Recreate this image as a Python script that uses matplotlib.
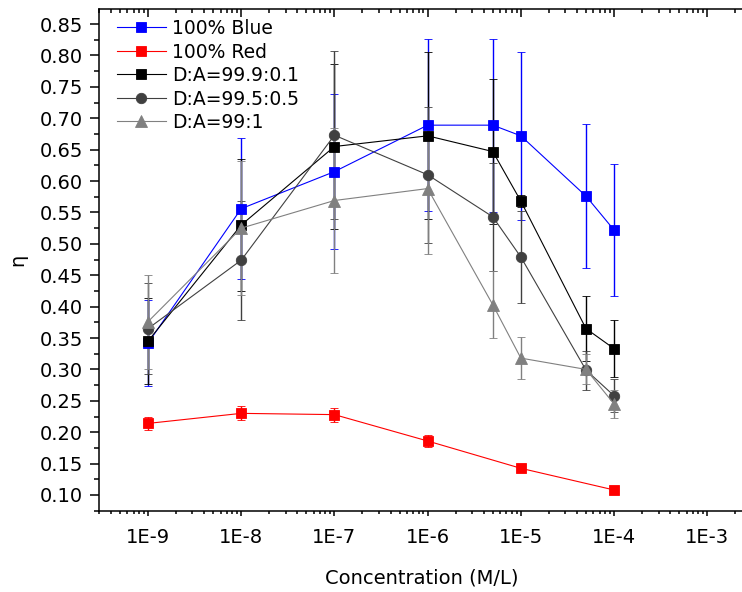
import numpy as np
import matplotlib
matplotlib.use("Agg")
import matplotlib.pyplot as plt
from matplotlib.ticker import MultipleLocator, LogLocator, FixedLocator, FuncFormatter

plt.rcParams['font.family'] = ['DejaVu Sans']

# concentrations (M/L)
conc = [1e-9, 1e-8, 1e-7, 1e-6, 5e-6, 1e-5, 5e-5, 1e-4]
conc_red = [1e-9, 1e-8, 1e-7, 1e-6, 1e-5, 1e-4]

# efficiency eta and error per series
blue = [0.342, 0.556, 0.615, 0.689, 0.689, 0.672, 0.576, 0.522]
blue_err = [0.069, 0.112, 0.123, 0.137, 0.138, 0.134, 0.115, 0.105]
red = [0.214, 0.230, 0.228, 0.186, 0.1425, 0.108]
red_err = [0.011, 0.011, 0.011, 0.010, 0.004, 0.003]
da_01 = [0.345, 0.530, 0.655, 0.672, 0.647, 0.568, 0.365, 0.333]
da_01_err = [0.069, 0.105, 0.131, 0.133, 0.115, 0.010, 0.052, 0.045]
da_05 = [0.365, 0.474, 0.673, 0.610, 0.543, 0.479, 0.299, 0.258]
da_05_err = [0.073, 0.095, 0.134, 0.108, 0.086, 0.073, 0.031, 0.026]
da_1 = [0.376, 0.525, 0.569, 0.588, 0.403, 0.318, 0.300, 0.245]
da_1_err = [0.075, 0.107, 0.115, 0.104, 0.053, 0.034, 0.024, 0.022]

labels = ['100% Blue', '100% Red', 'D:A=99.9:0.1', 'D:A=99.5:0.5', 'D:A=99:1']
yticks = [0.10, 0.15, 0.20, 0.25, 0.30, 0.35, 0.40, 0.45, 0.50, 0.55, 0.60, 0.65, 0.70, 0.75, 0.80, 0.85]
xticks = [1e-9, 1e-8, 1e-7, 1e-6, 1e-5, 1e-4, 1e-3]

fig = plt.figure(figsize=(7.42, 5.92), dpi=100)
ax = fig.add_axes([99/742, 81/592, 646/742, 502/592])

series = [
    (conc, blue, blue_err, '#0000ff', 's', 6.5),
    (conc_red, red, red_err, '#ff0000', 's', 6.5),
    (conc, da_01, da_01_err, '#000000', 's', 6.5),
    (conc, da_05, da_05_err, '#404040', 'o', 7.5),
    (conc, da_1, da_1_err, '#808080', '^', 8.0),
]

handles = []
for x, y, e, c, m, ms in series:
    eb = ax.errorbar(x, y, yerr=e, color=c, marker=m, markersize=ms, mec=c, mew=0.6,
                     lw=0.8, elinewidth=1.0, capsize=3.0, capthick=1.0)
    handles.append(eb[0])  # line+marker only, no bars in the legend

ax.set_xscale('log')
ax.set_xlim(10**-9.526, 10**-2.595)
ax.set_ylim(0.0745, 0.874)

ax.xaxis.set_major_locator(FixedLocator(xticks))
ax.xaxis.set_major_formatter(FuncFormatter(lambda v, p: '1E%d' % round(np.log10(v))))
ax.xaxis.set_minor_locator(LogLocator(base=10, subs=np.arange(2, 10)))
ax.yaxis.set_major_locator(FixedLocator(yticks))
ax.yaxis.set_major_formatter(FuncFormatter(lambda v, p: '%.2f' % v))
ax.yaxis.set_minor_locator(MultipleLocator(0.025))

ax.spines['right'].set_visible(False)
for s in ['left', 'bottom', 'top']:
    ax.spines[s].set_linewidth(1.1)

ax.tick_params(axis='y', which='major', direction='out', length=6.5, width=1.1, labelsize=14, pad=5)
ax.tick_params(axis='y', which='minor', direction='out', length=3.5, width=1.1)
ax.tick_params(axis='x', which='major', direction='out', length=3.5, width=1.1, labelsize=14, pad=9,
               top=True)
ax.tick_params(axis='x', which='minor', direction='out', length=2.2, width=1.1, top=True)

# top axis ticks point inward
for t in ax.xaxis.get_major_ticks():
    t.tick2line.set_marker(3)
    t.tick2line.set_markersize(5.5)
for t in ax.xaxis.get_minor_ticks():
    t.tick2line.set_marker(3)
    t.tick2line.set_markersize(2.7)

ax.set_xlabel('Concentration (M/L)', fontsize=14, labelpad=15)
ax.set_ylabel('η', fontsize=14, labelpad=9)

ax.legend(handles, labels, loc='upper left', bbox_to_anchor=(0.028, 0.980), frameon=False,
          fontsize=13.5, borderpad=0, borderaxespad=0, handlelength=2.6, handletextpad=0.35,
          labelspacing=0.24)

fig.savefig('out.png', dpi=100)
